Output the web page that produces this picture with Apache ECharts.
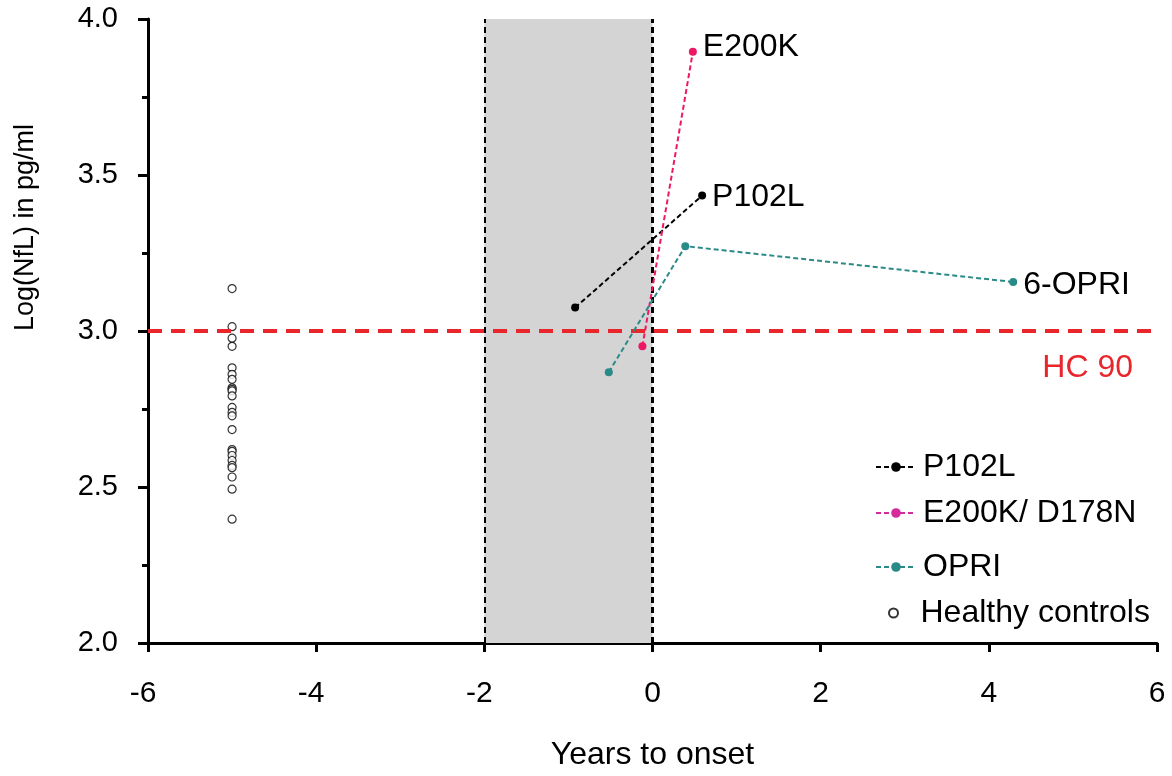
<!DOCTYPE html>
<html>
<head>
<meta charset="utf-8">
<script src="https://cdn.jsdelivr.net/npm/echarts@6/dist/echarts.min.js"></script>
<style>
  html, body { margin: 0; padding: 0; background: #fff; }
  #chart { width: 1172px; height: 776px; }
</style>
</head>
<body>
<div id="chart"></div>
<script>
// Years to onset vs log NfL, per mutation group
const p102l = [[-0.92, 3.075], [0.59, 3.434]];
const e200k = [[-0.12, 2.951], [0.48, 3.895]];
const opri = [[-0.52, 2.868], [0.39, 3.272], [4.29, 3.157]];

// Healthy control values, all plotted at -5 years
const controlX = -5;
const controlValues = [3.136, 3.014, 2.977, 2.951, 2.882, 2.861, 2.845, 2.818, 2.813,
  2.808, 2.792, 2.755, 2.739, 2.728, 2.684, 2.620, 2.614, 2.601, 2.585, 2.569,
  2.562, 2.532, 2.493, 2.397];

// Reference threshold and symptomatic window
const hcThreshold = 3.0;
const windowStart = -2;
const onset = 0;

const xTicks = { min: -6, max: 6, interval: 2 };
const yTicks = { min: 2, max: 4, interval: 0.5 };

const FONT = '"Liberation Sans", Arial, Helvetica, sans-serif';
const COL_P = '#000000';
const COL_E = '#ee1766';
const COL_E_LEGEND = '#d42a9c';
const COL_O = '#2a8a88';
const COL_HC = '#e8262c';

const chart = echarts.init(document.getElementById('chart'), null, { renderer: 'canvas' });

function endLabel(text, offset) {
  return {
    show: true, formatter: text, position: 'right', distance: 6, offset: offset,
    color: '#000', fontFamily: FONT, fontSize: 32
  };
}

function lineSeries(name, pts, color, labelText, offset) {
  return {
    name: name, type: 'line', z: 5,
    data: pts.map((p, i) => i === pts.length - 1
      ? { value: p, label: endLabel(labelText, offset) }
      : { value: p }),
    symbol: 'circle', symbolSize: 8, showSymbol: true,
    lineStyle: { color: color, width: 2, type: [5, 3] },
    itemStyle: { color: color },
    emphasis: { disabled: true },
    animation: false
  };
}

function legendAt(name, top, extra) {
  return Object.assign({
    orient: 'vertical', left: 870, top: top,
    itemWidth: 40, itemHeight: 12, itemGap: 0,
    data: [name], selectedMode: false,
    textStyle: { fontFamily: FONT, fontSize: 32, color: '#000', padding: [0, 0, 0, 2] }
  }, extra || {});
}

const option = {
  backgroundColor: '#fff',
  animation: false,
  grid: { left: 148, right: 15, top: 19, bottom: 128, containLabel: false },
  xAxis: {
    type: 'value', min: xTicks.min, max: xTicks.max, interval: xTicks.interval,
    axisLine: { show: true, onZero: false, lineStyle: { color: '#000', width: 3 } },
    axisTick: { show: true, length: 9, lineStyle: { color: '#000', width: 3 } },
    axisLabel: {
      color: '#000', fontFamily: FONT, fontSize: 30, margin: 36,
      // keep the digit centred on the tick; the minus sign hangs to the left
      formatter: v => v < 0 ? String(v) + '{pad|}' : String(v),
      rich: { pad: { width: 10 } }
    },
    splitLine: { show: false },
    name: 'Years to onset', nameLocation: 'middle', nameGap: 96,
    nameTextStyle: { color: '#000', fontFamily: FONT, fontSize: 32 }
  },
  yAxis: {
    type: 'value', min: yTicks.min, max: yTicks.max, interval: yTicks.interval,
    axisLine: { show: true, onZero: false, lineStyle: { color: '#000', width: 3 } },
    axisTick: { show: true, length: 10, lineStyle: { color: '#000', width: 3 } },
    minorTick: { show: true, splitNumber: 2, length: 6, lineStyle: { color: '#000', width: 3 } },
    axisLabel: { color: '#000', fontFamily: FONT, fontSize: 29, margin: 30,
      formatter: v => v.toFixed(1) },
    splitLine: { show: false }
  },
  graphic: [{
    type: 'text', left: 12, top: 124, rotation: Math.PI / 2,
    style: { text: 'Log(NfL) in pg/ml', font: '27px ' + FONT, fill: '#000' }
  }],
  legend: [
    legendAt('P102L', 446),
    legendAt('E200K/ D178N', 492),
    legendAt('OPRI', 546),
    legendAt('Healthy controls', 592, { left: 883, itemHeight: 9 })
  ],
  series: [
    {
      // symptomatic window and onset line
      name: 'window', type: 'line', data: [], z: 1,
      markArea: {
        silent: true,
        itemStyle: { color: '#d4d4d4' },
        data: [[{ xAxis: windowStart }, { xAxis: onset }]]
      },
      markLine: {
        silent: true, symbol: 'none', animation: false,
        label: { show: false },
        data: [
          { xAxis: windowStart, lineStyle: { color: '#000', width: 2, type: [6, 4] } },
          { xAxis: onset, lineStyle: { color: '#000', width: 3, type: [6, 4] } }
        ]
      }
    },
    {
      name: 'hc', type: 'line', data: [], z: 2,
      markLine: {
        silent: true, symbol: 'none', animation: false,
        data: [{
          yAxis: hcThreshold,
          lineStyle: { color: COL_HC, width: 4, type: [14, 9] },
          label: {
            show: true, formatter: 'HC 90', position: 'insideEndBottom',
            color: COL_HC, fontFamily: FONT, fontSize: 32, distance: [24, 21]
          }
        }]
      }
    },
    lineSeries('P102L', p102l, COL_P, 'P102L', [0, 2]),
    lineSeries('E200K/ D178N', e200k, COL_E, 'E200K', [0, -5]),
    lineSeries('OPRI', opri, COL_O, '6-OPRI', [0, 3]),
    {
      name: 'Healthy controls', type: 'scatter', z: 4,
      data: controlValues.map(v => [controlX, v]),
      symbol: 'circle', symbolSize: 8,
      itemStyle: { color: '#fff', borderColor: '#000', borderWidth: 1.2 },
      emphasis: { disabled: true }
    }
  ]
};

// legend icon colour for the E200K group
option.legend[1].data = [{ name: 'E200K/ D178N', itemStyle: { color: COL_E_LEGEND }, lineStyle: { color: COL_E_LEGEND } }];

chart.setOption(option);
</script>
</body>
</html>
